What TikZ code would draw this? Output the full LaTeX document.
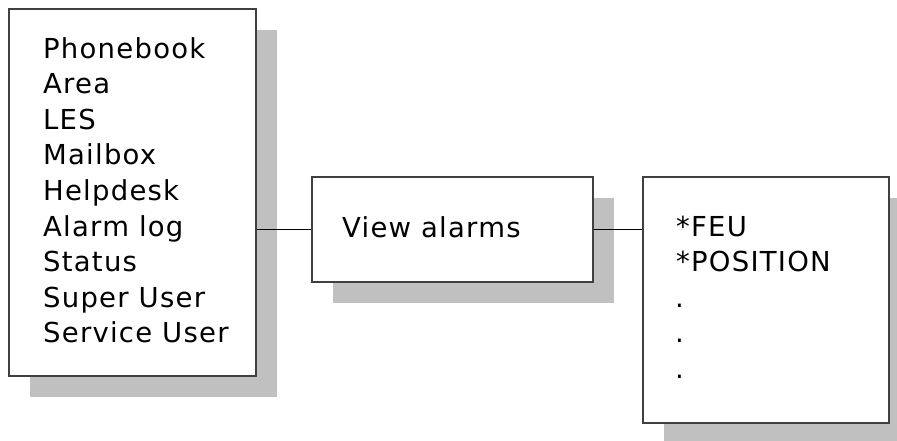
\documentclass[tikz,border=0pt]{standalone}
\usepackage{fontspec}
\setmainfont{DejaVu Sans}[LetterSpace=4.5]
\usetikzlibrary{shadows}
\definecolor{shadowgray}{RGB}{192,192,192}
\definecolor{framegray}{RGB}{64,64,64}
\tikzset{
  menubox/.style={draw=framegray, line width=1.5pt, fill=white, inner sep=0pt,
    anchor=north west,
    general shadow={fill=shadowgray, shadow xshift=21pt, shadow yshift=-21pt}},
  item/.style={font=\fontsize{27.5}{32}\selectfont, anchor=base west, inner sep=0pt},
  link/.style={black, line width=1.4pt}
}
\begin{document}
\begin{tikzpicture}[x=1pt,y=-1pt]
\useasboundingbox (0,0) rectangle (897,440);
\node[menubox, minimum width=247pt, minimum height=367pt] (mainmenu) at (8,8) {};
\node[menubox, minimum width=281pt, minimum height=105pt] (alarmmenu) at (311,176) {};
\node[menubox, minimum width=246pt, minimum height=246pt] (alarmlist) at (642,176) {};
% main menu entries
\node[item] (phonebook) at (43,58) {Phonebook};
\node[item] (area) at (43,93.6) {Area};
\node[item] (les) at (43,129.2) {LES};
\node[item] (mailbox) at (43,164.8) {Mailbox};
\node[item] (helpdesk) at (43,200.4) {Helpdesk};
\node[item] (alarmlog) at (43,236) {Alarm log};
\node[item] (status) at (43,271.6) {Status};
\node[item] (superuser) at (43,307.2) {Super User};
\node[item] (serviceuser) at (43,342.8) {Service User};
% alarm menu
\node[item] (viewalarms) at (342,237) {View alarms};
% alarm list
\node[item] (feu) at (676,236) {*FEU};
\node[item] (position) at (676,271.6) {*POSITION};
\node[item] (dotone) at (675,307.2) {.};
\node[item] (dottwo) at (675,342.8) {.};
\node[item] (dotthree) at (675,378.4) {.};
% connectors
\draw[link] (mainmenu.east |- alarmmenu.west) -- (alarmmenu.west);
\draw[link] (alarmmenu.east) -- (alarmmenu.east -| alarmlist.west);
\end{tikzpicture}
\end{document}
